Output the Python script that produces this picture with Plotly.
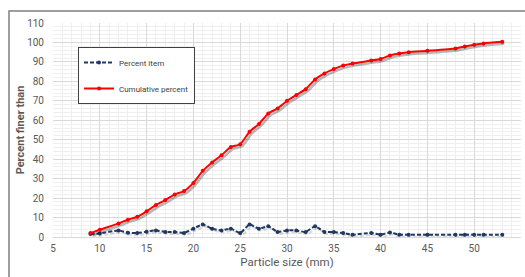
import plotly.graph_objects as go

size_mm = [9, 10, 12, 13, 14, 15, 16, 17, 18, 19, 20, 21, 22, 23, 24, 25, 26, 27, 28, 29,
           30, 31, 32, 33, 34, 35, 36, 37, 39, 40, 41, 42, 43, 45, 48, 49, 50, 51, 53]
percent_item = [1.5, 1.8, 3.4, 2.2, 2.1, 2.7, 3.4, 2.6, 2.6, 2.1, 4.3, 6.4, 4.3, 3.4, 4.3, 2.1,
                6.4, 4.3, 5.5, 2.6, 3.4, 3.4, 2.6, 5.5, 2.6, 2.6, 2.0, 1.2, 2.1, 1.2, 2.3, 1.2,
                1.2, 1.2, 1.2, 1.2, 1.2, 1.2, 1.2]
cumulative = [2.0, 3.7, 7.0, 8.9, 10.4, 13.2, 16.5, 19.0, 21.9, 23.6, 27.8, 34.0, 38.3, 42.0,
              46.3, 47.7, 54.1, 58.1, 63.5, 66.1, 70.0, 73.0, 76.0, 81.0, 84.1, 86.3, 88.1,
              89.2, 90.7, 91.5, 93.3, 94.3, 95.0, 95.7, 96.9, 97.9, 98.8, 99.5, 100.3]

x_ticks = [5, 10, 15, 20, 25, 30, 35, 40, 45, 50, 55]
y_ticks = [0, 10, 20, 30, 40, 50, 60, 70, 80, 90, 100, 110]

FONT = "Liberation Sans Narrow, Roboto, Arial, sans-serif"
GREY = "#595959"

W, H = 525, 277
L, R, T, B = 53, 4, 23, 40
pw, ph = W - L - R, H - T - B
X_RANGE = [5, 55]
Y_RANGE = [0, 110]
SH = 2.0  # shadow offset in px
dx = SH * (X_RANGE[1] - X_RANGE[0]) / pw
dy = SH * (Y_RANGE[1] - Y_RANGE[0]) / ph

def px(xp):
    return (xp - L) / pw

def py(yp):
    return (H - B - yp) / ph

fig = go.Figure()
# soft shadows drawn on an overlaid, slightly shifted axis pair
fig.add_trace(go.Scatter(
    x=size_mm, y=cumulative, mode="lines", xaxis="x2", yaxis="y2", showlegend=False,
    hoverinfo="skip",
    line=dict(color="rgba(0,0,0,0.28)", width=2.5, shape="spline", smoothing=0.5)))
fig.add_trace(go.Scatter(
    x=size_mm, y=percent_item, mode="lines", xaxis="x2", yaxis="y2", showlegend=False,
    hoverinfo="skip",
    line=dict(color="rgba(0,0,0,0.15)", width=2, dash="4px,2px", shape="spline", smoothing=0.5)))

fig.add_trace(go.Scatter(
    x=size_mm, y=percent_item, name="Percent item", mode="lines+markers",
    line=dict(color="#1f3864", width=2, dash="4px,2px", shape="spline", smoothing=0.5),
    marker=dict(color="#1f3864", size=4), legendgroup="a"))
fig.add_trace(go.Scatter(
    x=size_mm, y=cumulative, name="Cumulative percent", mode="lines+markers",
    line=dict(color="#ff0000", width=2, shape="spline", smoothing=0.5),
    marker=dict(color="#ff0000", size=4), legendgroup="b"))

fig.update_layout(
    width=W, height=H, margin=dict(l=L, r=R, t=T, b=B, autoexpand=False),
    paper_bgcolor="white", plot_bgcolor="white",
    font=dict(family=FONT, color=GREY, size=10),
    xaxis=dict(range=X_RANGE, tickvals=x_ticks, showgrid=True, gridcolor="#d9d9d9",
               gridwidth=1, minor=dict(dtick=1, showgrid=True, gridcolor="#efefef"),
               showline=True, linecolor="#d9d9d9", zeroline=False, ticks="",
               automargin=False, ticklabelstandoff=2,
               tickfont=dict(size=10, color=GREY),
               title=dict(text="Particle size (mm)", font=dict(size=11.5, color=GREY), standoff=4)),
    yaxis=dict(range=Y_RANGE, tickvals=y_ticks, showgrid=True, gridcolor="#d9d9d9",
               gridwidth=1, minor=dict(dtick=2, showgrid=True, gridcolor="#efefef"),
               showline=False, zeroline=False, ticks="", ticklabelstandoff=8,
               automargin=False,
               tickfont=dict(size=10, color=GREY),
               title=dict(text="<b>Percent finer than</b>", font=dict(size=11, color=GREY), standoff=0)),
    xaxis2=dict(range=[X_RANGE[0] - dx, X_RANGE[1] - dx], overlaying="x", visible=False),
    yaxis2=dict(range=[Y_RANGE[0] + dy, Y_RANGE[1] + dy], overlaying="y", visible=False),
    legend=dict(x=px(78), y=py(47), xanchor="left", yanchor="top",
                bgcolor="white", bordercolor="#404040", borderwidth=1,
                font=dict(size=8, color="#404040"), tracegroupgap=7,
                itemwidth=30),
    showlegend=True,
    shapes=[
        dict(type="rect", xref="paper", yref="paper",
             x0=px(9), x1=px(560), y0=py(300), y1=py(11),
             line=dict(color="#7f7f7f", width=1.5), fillcolor="rgba(0,0,0,0)", layer="below"),
    ],
)

fig.write_html("out.html", config={"displayModeBar": False},
               post_script="document.body.style.margin='0';document.body.style.overflow='hidden';")
